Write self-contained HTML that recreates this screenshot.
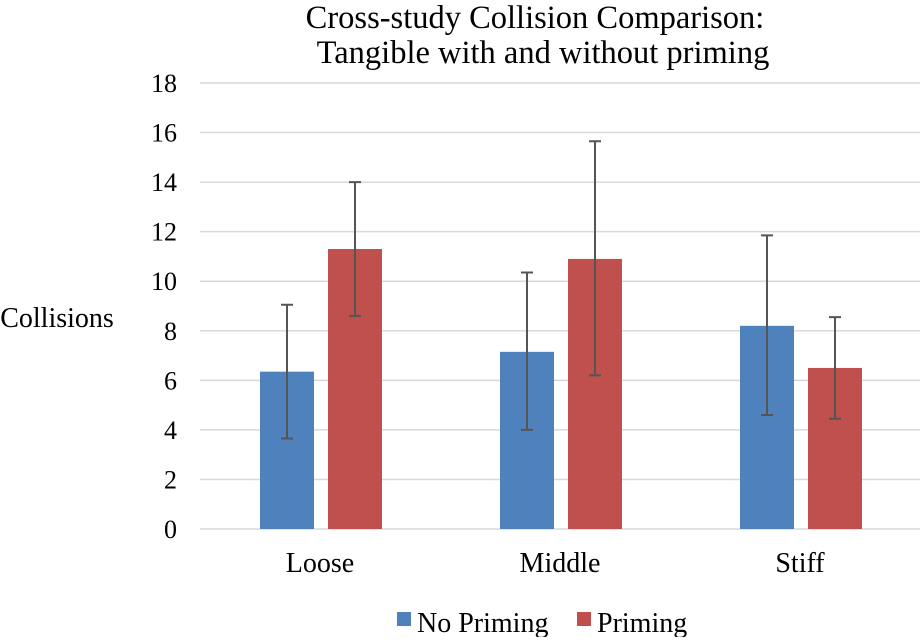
<!DOCTYPE html>
<html><head><meta charset="utf-8"><style>
html,body{margin:0;padding:0;background:#fff;}
svg text{font-family:"Liberation Serif",serif;fill:#000;}
</style></head><body>
<svg id="chart" width="920" height="637" xmlns="http://www.w3.org/2000/svg">
<text x="535" y="28" font-size="32.5" text-anchor="middle">Cross-study Collision Comparison:</text>
<text x="543" y="63" font-size="32.5" text-anchor="middle">Tangible with and without priming</text>
<text x="57" y="327" font-size="28" text-anchor="middle">Collisions</text>
<g id="grid"></g><g id="bars"></g><g id="errs"></g><g id="labels"></g>
<g>
<rect x="397" y="612" width="14" height="14" fill="#4f81bd"/>
<text x="417" y="632" font-size="28">No Priming</text>
<rect x="577" y="612" width="14" height="14" fill="#c0504d"/>
<text x="597" y="632" font-size="28">Priming</text>
</g>
</svg>
<script>
const categories = ["Loose","Middle","Stiff"];
const noPriming = [6.35, 7.15, 8.2];
const priming = [11.3, 10.9, 6.5];
const noPrimingLow = [3.65, 4.0, 4.6];
const noPrimingHigh = [9.05, 10.35, 11.85];
const primingLow = [8.6, 6.2, 4.45];
const primingHigh = [14.0, 15.65, 8.55];
const yTicks = [0,2,4,6,8,10,12,14,16,18];

const NS="http://www.w3.org/2000/svg";
const y0=529, yTop=83, yMax=18;
const y = v => y0 - v*(y0-yTop)/yMax;
const x = i => 320 + i*240;
function mk(tag, attrs, parent){const e=document.createElementNS(NS,tag);for(const k in attrs)e.setAttribute(k,attrs[k]);document.getElementById(parent).appendChild(e);return e;}
yTicks.forEach(t=>{
  const l=mk('line',{x1:200,x2:920,y1:y(t),y2:y(t),stroke:'#d9d9d9','stroke-width':1.5},'grid');
  
  
  const tx=mk('text',{x:177,y:y(t)+9,'font-size':26,'text-anchor':'end'},'labels');
  tx.textContent=t;
  
  
});
categories.forEach((c,i)=>{
  const tx=mk('text',{x:x(i),y:572,'font-size':28,'text-anchor':'middle'},'labels');
  tx.textContent=c;
  
  
  [[noPriming,noPrimingLow,noPrimingHigh,'#4f81bd',-60,'no-priming'],[priming,primingLow,primingHigh,'#c0504d',8,'priming']].forEach(([vals,lo,hi,col,off,nm])=>{
    const bx=x(i)+off;
    const b=mk('rect',{x:bx,y:y(vals[i]),width:54,height:y0-y(vals[i]),fill:col},'bars');
    
    
    const cx=bx+27;
    const g=mk('g',{stroke:'#555','stroke-width':2},'errs');
    
    
    const a=document.createElementNS(NS,'path');
    a.setAttribute('d',`M${cx},${y(lo[i])}V${y(hi[i])}M${cx-6},${y(lo[i])}H${cx+6}M${cx-6},${y(hi[i])}H${cx+6}`);
    a.setAttribute('fill','none');
    g.appendChild(a);
  });
});
</script>
</body></html>
